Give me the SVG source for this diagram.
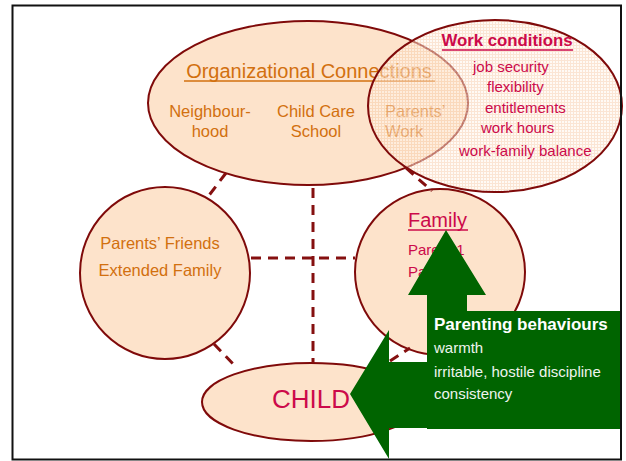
<svg xmlns="http://www.w3.org/2000/svg" width="626" height="461" viewBox="0 0 626 461">
<style>
  .node { fill: #fde3cb; stroke: #7f0a0a; stroke-width: 2; }
  .conn { stroke: #851010; stroke-width: 3; stroke-dasharray: 10 7; fill: none; }
  text { font-family: "Liberation Sans", Arial, sans-serif; }
  .org { fill: #d2700f; font-size: 16.5px; }
  .work { fill: #cc0a4a; font-size: 15px; }
  .box { fill: #eef4ee; font-size: 15px; }
</style>
<defs>
  <pattern id="grid" width="3" height="3" patternUnits="userSpaceOnUse">
    <rect width="3" height="3" fill="#fff5ec"/>
    <path d="M0 0.5H3M0.5 0V3" stroke="#f8d0b0" stroke-width="1"/>
  </pattern>
</defs>
<rect x="0" y="0" width="626" height="461" fill="#ffffff"/>

<g id="organizational">
  <ellipse class="node" cx="308" cy="103" rx="160" ry="82"/>
  <text x="309" y="78" fill="#d2700f" text-anchor="middle" style="font-size:20px">Organizational Connections</text>
  <line x1="184" y1="81" x2="435" y2="81" stroke="#d2700f" stroke-width="1.5"/>
  <text x="210" y="117" class="org" text-anchor="middle">Neighbour-</text>
  <text x="210" y="137" class="org" text-anchor="middle">hood</text>
  <text x="316" y="117" class="org" text-anchor="middle">Child Care</text>
  <text x="316" y="137" class="org" text-anchor="middle">School</text>
  <text x="385" y="117" class="org">Parents’</text>
  <text x="385" y="137" class="org">Work</text>
</g>

<g id="friends">
  <ellipse class="node" cx="165" cy="273" rx="85" ry="86"/>
  <text x="160" y="249" class="org" text-anchor="middle">Parents’ Friends</text>
  <text x="160" y="276" class="org" text-anchor="middle">Extended Family</text>
</g>

<g id="family">
  <ellipse class="node" cx="440" cy="272" rx="85" ry="83"/>
  <text x="408" y="227" fill="#cc0a4a" style="font-size:20px">Family</text>
  <line x1="408" y1="230" x2="468" y2="230" stroke="#cc0a4a" stroke-width="1.5"/>
  <text x="408" y="255" class="work">Parent 1</text>
  <text x="408" y="277" class="work">Parent 2</text>
</g>

<g id="child">
  <ellipse class="node" cx="311" cy="402" rx="109" ry="39"/>
  <text x="311" y="408" fill="#cc0a4a" text-anchor="middle" style="font-size:26px">CHILD</text>
</g>

<g id="work-conditions">
  <ellipse cx="495" cy="106" rx="127" ry="86" fill="url(#grid)" fill-opacity="0.55" stroke="#7f0a0a" stroke-width="2"/>
  <text x="507" y="46" fill="#cc0a4a" text-anchor="middle" font-weight="bold" style="font-size:16.8px">Work conditions</text>
  <line x1="442" y1="50" x2="573" y2="50" stroke="#cc0a4a" stroke-width="1.5"/>
  <text x="473" y="72" class="work">job security</text>
  <text x="487" y="92" class="work">flexibility</text>
  <text x="485" y="113" class="work">entitlements</text>
  <text x="481" y="133" class="work">work hours</text>
  <text x="459" y="156" class="work">work-family balance</text>
</g>

<g id="connectors">
  <line class="conn" x1="313" y1="188" x2="313" y2="363"/>
  <line class="conn" x1="251" y1="258" x2="355" y2="258"/>
  <line class="conn" x1="226" y1="173" x2="207" y2="198"/>
  <line class="conn" x1="214" y1="344" x2="237" y2="368"/>
  <line class="conn" x1="406" y1="168" x2="432" y2="191"/>
  <line class="conn" x1="390" y1="361" x2="410" y2="348"/>
</g>

<g id="parenting-behaviours">
  <polygon fill="#006400" points="446,230 486,295 467,295 467,311 427,311 427,295 408,295"/>
  <polygon fill="#006400" points="350,394 389,330 389,362 428,362 428,428 389,428 389,459"/>
  <rect x="427" y="311" width="195" height="118" fill="#006400"/>
  <text x="434" y="330" fill="#ffffff" font-weight="bold" style="font-size:17px">Parenting behaviours</text>
  <text x="434" y="353" class="box">warmth</text>
  <text x="434" y="377" class="box">irritable, hostile discipline</text>
  <text x="434" y="399" class="box">consistency</text>
</g>

<rect x="12.5" y="5.5" width="608.5" height="454" fill="none" stroke="#111111" stroke-width="2"/>
</svg>
